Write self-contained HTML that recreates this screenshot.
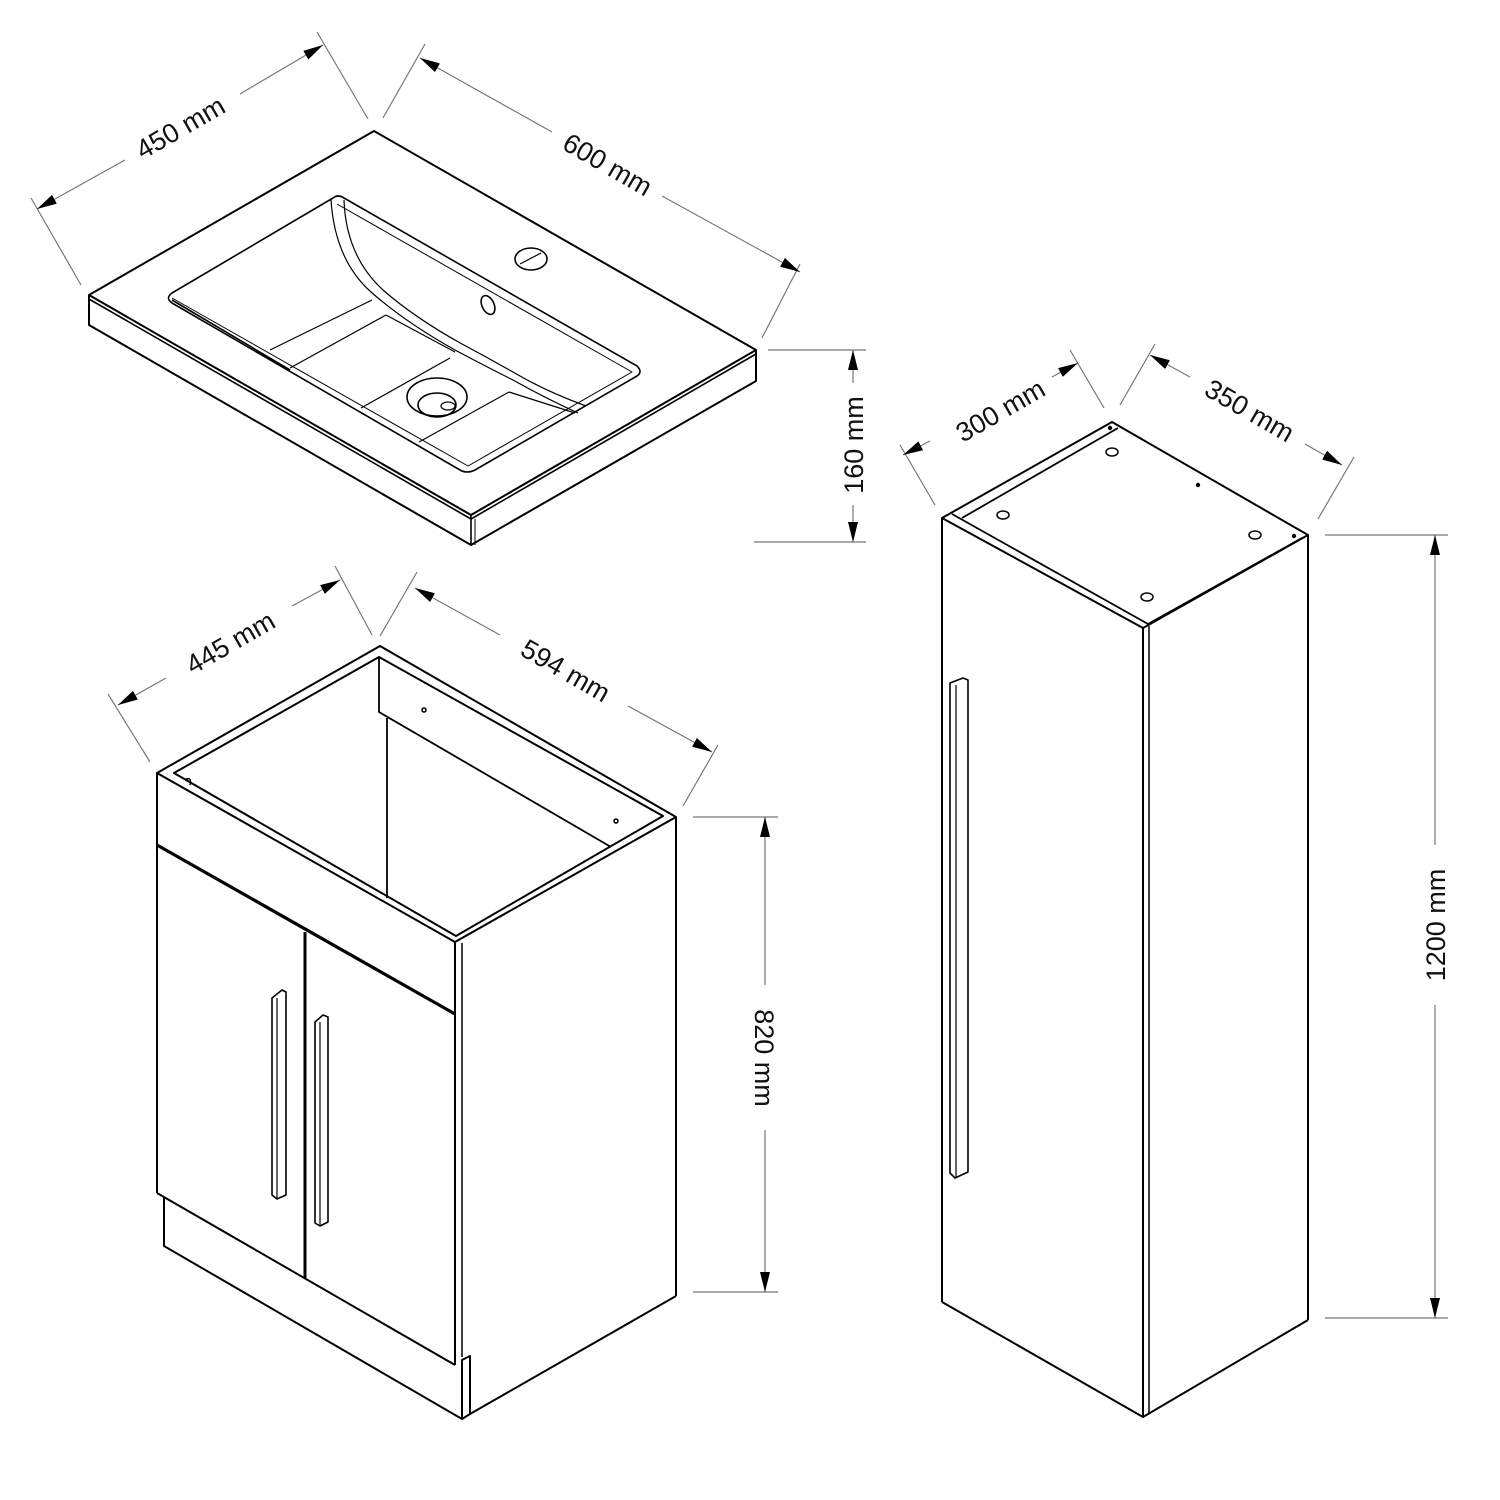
<!DOCTYPE html>
<html><head><meta charset="utf-8"><style>
html,body{margin:0;padding:0;background:#fff;}
svg{display:block;}
text{font-family:"Liberation Sans",Arial,sans-serif;font-size:27px;fill:#111;}
</style></head><body>
<svg width="1500" height="1500" viewBox="0 0 1500 1500" xmlns="http://www.w3.org/2000/svg">
<defs>
<marker id="ar" viewBox="0 0 20 10" refX="20" refY="5" markerWidth="20" markerHeight="10" markerUnits="userSpaceOnUse" orient="auto-start-reverse">
<path d="M0,0 L20,5 L0,10 Z" fill="#000"/>
</marker>
</defs>

<g stroke="#777" stroke-width="1.2" fill="none">
  <line x1="31" y1="198" x2="81" y2="285"/>
  <line x1="317" y1="32" x2="368" y2="119"/>
  <line x1="37" y1="209" x2="125" y2="160" marker-start="url(#ar)"/>
  <line x1="240" y1="94" x2="323" y2="45" marker-end="url(#ar)"/>
  <line x1="425" y1="44" x2="383" y2="118"/>
  <line x1="800" y1="264" x2="762" y2="338"/>
  <line x1="420" y1="58" x2="552" y2="132" marker-start="url(#ar)"/>
  <line x1="662" y1="196" x2="800" y2="272" marker-end="url(#ar)"/>
  <line x1="768" y1="350" x2="866" y2="350"/>
  <line x1="754" y1="542" x2="866" y2="542"/>
  <line x1="853" y1="350" x2="853" y2="383" marker-start="url(#ar)"/>
  <line x1="853" y1="505" x2="853" y2="542" marker-end="url(#ar)"/>
  <line x1="108" y1="694" x2="150" y2="762"/>
  <line x1="335" y1="566" x2="372" y2="635"/>
  <line x1="118" y1="705" x2="166" y2="678" marker-start="url(#ar)"/>
  <line x1="292" y1="606" x2="340" y2="580" marker-end="url(#ar)"/>
  <line x1="417" y1="572" x2="380" y2="636"/>
  <line x1="718" y1="745" x2="683" y2="806"/>
  <line x1="415" y1="588" x2="500" y2="635" marker-start="url(#ar)"/>
  <line x1="628" y1="706" x2="712" y2="752" marker-end="url(#ar)"/>
  <line x1="693" y1="817" x2="778" y2="817"/>
  <line x1="693" y1="1292" x2="778" y2="1292"/>
  <line x1="765" y1="817" x2="765" y2="985" marker-start="url(#ar)"/>
  <line x1="765" y1="1130" x2="765" y2="1292" marker-end="url(#ar)"/>
  <line x1="900" y1="445" x2="935" y2="505"/>
  <line x1="1070" y1="350" x2="1104" y2="408"/>
  <line x1="903" y1="455" x2="930" y2="441" marker-start="url(#ar)"/>
  <line x1="1052" y1="377" x2="1078" y2="363" marker-end="url(#ar)"/>
  <line x1="1155" y1="344" x2="1120" y2="405"/>
  <line x1="1354" y1="457" x2="1318" y2="519"/>
  <line x1="1150" y1="355" x2="1190" y2="377" marker-start="url(#ar)"/>
  <line x1="1305" y1="444" x2="1342" y2="465" marker-end="url(#ar)"/>
  <line x1="1325" y1="535" x2="1448" y2="535"/>
  <line x1="1325" y1="1318" x2="1448" y2="1318"/>
  <line x1="1435" y1="535" x2="1435" y2="845" marker-start="url(#ar)"/>
  <line x1="1435" y1="1005" x2="1435" y2="1318" marker-end="url(#ar)"/>
</g>
<g>
  <text x="180" y="137" text-anchor="middle" transform="rotate(-30 180 127)">450 mm</text>
  <text x="608" y="174" text-anchor="middle" transform="rotate(30 608 164)">600 mm</text>
  <text x="853" y="455" text-anchor="middle" transform="rotate(-90 853 445)">160 mm</text>
  <text x="230" y="652" text-anchor="middle" transform="rotate(-30 230 642)">445 mm</text>
  <text x="566" y="680" text-anchor="middle" transform="rotate(30 566 670)">594 mm</text>
  <text x="765" y="1068" text-anchor="middle" transform="rotate(90 765 1058)">820 mm</text>
  <text x="1000" y="420" text-anchor="middle" transform="rotate(-30 1000 410)">300 mm</text>
  <text x="1250" y="420" text-anchor="middle" transform="rotate(30 1250 410)">350 mm</text>
  <text x="1435" y="935" text-anchor="middle" transform="rotate(-90 1435 925)">1200 mm</text>
</g>

<g stroke="#000" stroke-width="1.6" fill="none" stroke-linejoin="round">
  <path d="M89,295 L374,131 L756,350 L471,515 Z" stroke-width="2"/>
  <path d="M89,299 L471,519 L756,354"/>
  <path d="M89,295 L89,325 L471,545 L756,381 L756,350" stroke-width="2"/>
  <line x1="471" y1="515" x2="471" y2="545"/>
  <line x1="475" y1="519" x2="475" y2="545" stroke-width="1"/>
  <path d="M333,198 Q338,194 344,198 L637,366 Q643,372 637,376 L475,470 Q467,474 460,470 L172,303 Q165,298 172,293 Z"/>
  <path d="M337,204 L632,372 L468,466 L172,298" stroke-width="1"/>
  <path d="M331,200 Q335,260 371,292 Q405,322 455,350 Q485,366 513,380 Q545,398 578,413" stroke-width="1.2"/>
  <path d="M344,200 Q346,256 383,290 Q415,318 462,344 Q492,360 520,376 Q548,392 586,406" stroke-width="1.2"/>
  <line x1="172" y1="300" x2="290" y2="370"/>
  <line x1="270" y1="350" x2="372" y2="300" stroke-width="1.2"/>
  <line x1="290" y1="368" x2="386" y2="315" stroke-width="1.2"/>
  <line x1="361" y1="408" x2="450" y2="358" stroke-width="1.2"/>
  <line x1="419" y1="442" x2="509" y2="392" stroke-width="1.2"/>
  <line x1="386" y1="315" x2="455" y2="352" stroke-width="1.2"/>
  <line x1="509" y1="392" x2="575" y2="413" stroke-width="1.2"/>
  <ellipse cx="437" cy="397" rx="30" ry="19"/>
  <ellipse cx="437" cy="405" rx="19" ry="12"/>
  <ellipse cx="448" cy="406" rx="7" ry="4" stroke-width="1.2"/>
  <ellipse cx="531" cy="259" rx="16" ry="11"/>
  <path d="M520,264 L541,253" stroke-width="1.2"/>
  <ellipse cx="488" cy="305" rx="6" ry="10" transform="rotate(-25 488 305)"/>
</g>

<g stroke="#000" stroke-width="2" fill="none" stroke-linejoin="round">
  <path d="M157,773 L380,646 L676,817 L455,942 Z"/>
  <path d="M174,773 L379,657 L663,816 L456,936 Z" stroke-width="2"/>
  <path d="M379,657 L379,712 L611,847" stroke-width="1.8"/>
  <line x1="387" y1="718" x2="387" y2="898" stroke-width="1.8"/>
  <circle cx="424" cy="710" r="2" stroke-width="1.5"/>
  <circle cx="616" cy="821" r="2" stroke-width="1.5"/>
  <path d="M186,779 Q192,777 190,785" stroke-width="1.5"/>
  <line x1="157" y1="773" x2="157" y2="1193"/>
  <path d="M157,845 L455,1014" stroke-width="3.2"/>
  <line x1="455" y1="942" x2="455" y2="1365"/>
  <line x1="462" y1="943" x2="462" y2="1357" stroke-width="1.5"/>
  <line x1="676" y1="817" x2="676" y2="1296"/>
  <line x1="305" y1="932" x2="305" y2="1278" stroke-width="3"/>
  <line x1="157" y1="1193" x2="455" y2="1365"/>
  <path d="M164,1197 L164,1246 L462,1419 L462,1360 L470,1356 L470,1414 L676,1296"/>
  <line x1="462" y1="1419" x2="470" y2="1414"/>
  <path d="M272,998 L272,1195 L277,1199 L286,1195 L286,992 L282,990 Z" stroke-width="1.6"/>
  <line x1="277" y1="998" x2="277" y2="1199" stroke-width="1.2"/>
  <path d="M315,1022 L315,1223 L320,1226 L328,1222 L328,1017 L323,1015 Z" stroke-width="1.6"/>
  <line x1="320" y1="1022" x2="320" y2="1226" stroke-width="1.2"/>
</g>

<g stroke="#000" stroke-width="2" fill="none" stroke-linejoin="round">
  <path d="M942,518 L1112,422 L1308,535 L1143,628 Z"/>
  <path d="M962,518 L1118,428" stroke-width="1.8"/>
  <path d="M952,514 L1148,624" stroke-width="1.8"/>
  <path d="M1148,624 L1302,538" stroke-width="1.8"/>
  <line x1="942" y1="518" x2="942" y2="1302"/>
  <line x1="1143" y1="628" x2="1143" y2="1417"/>
  <line x1="1149" y1="626" x2="1149" y2="1414" stroke-width="1.5"/>
  <line x1="1308" y1="535" x2="1308" y2="1320"/>
  <path d="M942,1302 L1143,1417 L1308,1320"/>
  <ellipse cx="1112" cy="452" rx="6" ry="4" stroke-width="1.5"/>
  <ellipse cx="1003" cy="515" rx="6" ry="4" stroke-width="1.5"/>
  <ellipse cx="1255" cy="535" rx="6" ry="4" stroke-width="1.5"/>
  <ellipse cx="1147" cy="597" rx="6" ry="4" stroke-width="1.5"/>
  <circle cx="1198" cy="485" r="1.2" fill="#000"/>
  <circle cx="1110" cy="428" r="1.2" fill="#000"/>
  <circle cx="1294" cy="536" r="1.2" fill="#000"/>
  <path d="M950,683 L950,1173 L955,1178 L968,1172 L968,680 L963,678 Z" stroke-width="1.6"/>
  <line x1="956" y1="685" x2="956" y2="1177" stroke-width="1.2"/>
</g>
</svg>
</body></html>
